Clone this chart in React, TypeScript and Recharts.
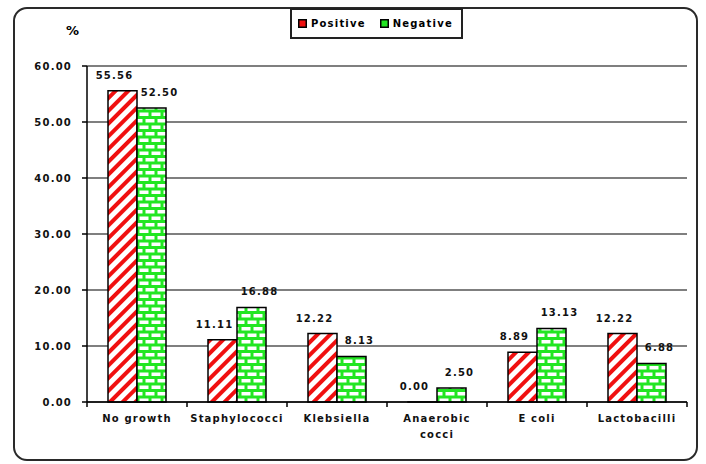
import { Bar, BarChart, CartesianGrid, LabelList, XAxis, YAxis } from "recharts";

const CATEGORIES = ["No growth", "Staphylococci", "Klebsiella", "Anaerobic cocci", "E coli", "Lactobacilli"];
const POSITIVE = [55.56, 11.11, 12.22, 0.0, 8.89, 12.22];
const NEGATIVE = [52.5, 16.88, 8.13, 2.5, 13.13, 6.88];
const Y_TICKS = [0, 10, 20, 30, 40, 50, 60];

const WIDTH = 706;
const HEIGHT = 464;
const MARGIN = { top: 66, right: 19, bottom: 22, left: 17 };
const Y_AXIS_WIDTH = 70;
const X_AXIS_HEIGHT = 40;
const BAND = (WIDTH - MARGIN.left - MARGIN.right - Y_AXIS_WIDTH) / CATEGORIES.length;

const FONT = "'DejaVu Sans', sans-serif";
const TEXT_STYLE = { fontFamily: FONT, fontSize: 10, fontWeight: 700, letterSpacing: 1.2, fill: "#111" };
const GREEN = "#22e622";

const data = CATEGORIES.map((name, i) => ({
	name,
	positive: POSITIVE[i],
	negative: NEGATIVE[i]
}));

// zero-height bars get dropped along with their labels, so give them a hairline
const keepZero = (value: number | undefined | null) => (value === 0 ? 0.01 : 0);

// hatch / brick fills shared by the bars and the legend swatches
function Patterns() {
	return (
		<svg width={0} height={0} style={{ position: "absolute" }}>
			<defs>
				<pattern id="stripes" width={9} height={9} patternUnits="userSpaceOnUse" patternTransform="rotate(45)">
					<rect width={9} height={9} fill="#fff" />
					<rect width={4} height={9} fill="#f01010" />
				</pattern>
				<pattern id="bricks" width={12} height={13} patternUnits="userSpaceOnUse">
					<rect width={12} height={13} fill={GREEN} />
					<rect x={1.5} y={2} width={9} height={3.5} fill="#fff" />
					<rect x={-4.5} y={8.5} width={9} height={3.5} fill="#fff" />
					<rect x={7.5} y={8.5} width={9} height={3.5} fill="#fff" />
				</pattern>
			</defs>
		</svg>
	);
}

function CategoryTick(props: any) {
	const { x, y, payload, index } = props;
	const label: string = payload.value;
	let lines = [label];
	if (label.length > 12 && label.includes(" ")) {
		const cut = label.lastIndexOf(" ");
		lines = [label.slice(0, cut), label.slice(cut + 1)];
	}
	const left = x - BAND / 2;
	return (
		<g>
			<line x1={left} x2={left} y1={y} y2={y + 5} stroke="#000" strokeWidth={1.5} />
			{index === CATEGORIES.length - 1 && (
				<line x1={left + BAND} x2={left + BAND} y1={y} y2={y + 5} stroke="#000" strokeWidth={1.5} />
			)}
			<text x={x} y={y + 20} textAnchor="middle" style={TEXT_STYLE}>
				{lines.map((line, i) => (
					<tspan key={line} x={x} dy={i === 0 ? 0 : 16}>
						{line}
					</tspan>
				))}
			</text>
		</g>
	);
}

function valueLabel(shift: number) {
	return (props: any) => {
		const { x, y, width, value } = props;
		return (
			<text x={x + width / 2 + shift} y={y - 12} textAnchor="middle" style={TEXT_STYLE}>
				{Number(value).toFixed(2)}
			</text>
		);
	};
}

function Swatch({ fill }: { fill: string }) {
	return (
		<svg width={9} height={9} style={{ display: "block" }}>
			<rect x={0.75} y={0.75} width={7.5} height={7.5} fill={fill} stroke="#000" strokeWidth={1.5} />
		</svg>
	);
}

function ChartLegend() {
	const items = [
		{ label: "Positive", fill: "#f01010" },
		{ label: "Negative", fill: GREEN }
	];
	return (
		<div
			style={{
				position: "absolute",
				left: 290,
				top: 8,
				width: 173,
				height: 31,
				boxSizing: "border-box",
				border: "2px solid #222",
				background: "#fff",
				display: "flex",
				alignItems: "center",
				gap: 14,
				paddingLeft: 6,
				fontFamily: FONT,
				fontSize: 10,
				fontWeight: 700,
				letterSpacing: 1.2
			}}
		>
			{items.map((item) => (
				<div key={item.label} style={{ display: "flex", alignItems: "center", gap: 4 }}>
					<Swatch fill={item.fill} />
					<span>{item.label}</span>
				</div>
			))}
		</div>
	);
}

export default function App() {
	return (
		<div style={{ position: "absolute", left: 0, top: 0, width: WIDTH, height: HEIGHT, background: "#fff" }}>
			<Patterns />
			<div
				style={{
					position: "absolute",
					left: 13,
					top: 7,
					width: 685,
					height: 454,
					boxSizing: "border-box",
					border: "2px solid #2a2a2a",
					borderRadius: 14
				}}
			/>
			<div style={{ position: "absolute", left: 0, top: 0 }}>
				<BarChart
					width={WIDTH}
					height={HEIGHT}
					data={data}
					margin={MARGIN}
					barCategoryGap="21%"
					barGap={0}
				>
					<CartesianGrid vertical={false} stroke="#000" strokeWidth={1.2} />
					<XAxis
						dataKey="name"
						interval={0}
						height={X_AXIS_HEIGHT}
						tickLine={false}
						tickSize={0}
						tickMargin={0}
						axisLine={{ stroke: "#000", strokeWidth: 1.5 }}
						tick={<CategoryTick />}
					/>
					<YAxis
						domain={[0, 60]}
						ticks={Y_TICKS}
						width={Y_AXIS_WIDTH}
						tickFormatter={(v: number) => v.toFixed(2)}
						axisLine={{ stroke: "#000", strokeWidth: 1.5 }}
						tickLine={{ stroke: "#000", strokeWidth: 1.5 }}
						tickSize={5}
						tickMargin={10}
						tick={TEXT_STYLE}
					/>
					<Bar
						dataKey="positive"
						fill="url(#stripes)"
						stroke="#000"
						strokeWidth={1.5}
						minPointSize={keepZero}
						isAnimationActive={false}
					>
						<LabelList dataKey="positive" content={valueLabel(-8)} />
					</Bar>
					<Bar
						dataKey="negative"
						fill="url(#bricks)"
						stroke="#000"
						strokeWidth={1.5}
						minPointSize={keepZero}
						isAnimationActive={false}
					>
						<LabelList dataKey="negative" content={valueLabel(8)} />
					</Bar>
				</BarChart>
			</div>
			<div style={{ position: "absolute", left: 66, top: 23, fontFamily: FONT, fontSize: 13, fontWeight: 700 }}>%</div>
			<ChartLegend />
		</div>
	);
}
